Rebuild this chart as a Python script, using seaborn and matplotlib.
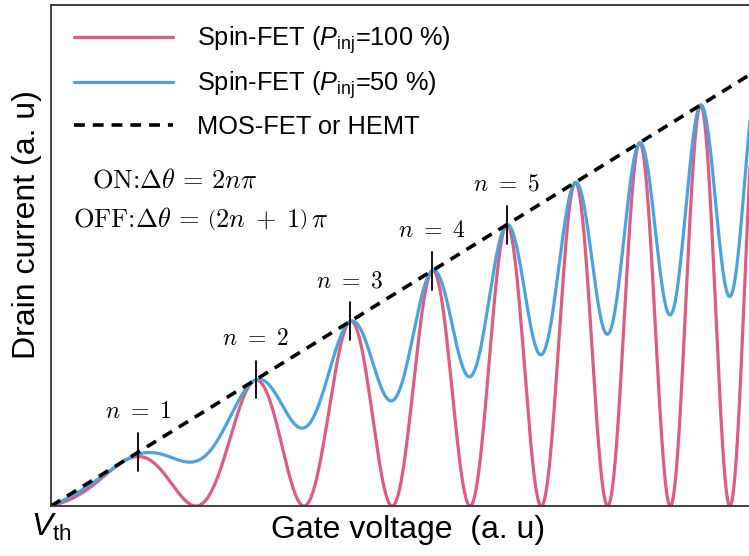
import numpy as np
import pandas as pd
import matplotlib
matplotlib.use("Agg")
import matplotlib.pyplot as plt
import seaborn as sns
from matplotlib.lines import Line2D

# ---- data / model parameters ----
v_max = 10.23                       # gate voltage range (a.u.), V_th at 0
phase_offset = 1.467                # phase / pi at V_th
phase_coef = 0.512                  # phase / pi growth ~ V^1.5
phase_power = 1.5
p_inj = [1.0, 0.5]                  # spin injection polarisation
series_names = ["Spin-FET ($P_{\\rm inj}$=100 %)", "Spin-FET ($P_{\\rm inj}$=50 %)"]
mos_name = "MOS-FET or HEMT"
peak_v = [1.246, 2.937, 4.284, 5.458, 6.533]   # marked ON states n=1..5
peak_labels = [r"$n\ =\ 1$", r"$n\ =\ 2$", r"$n\ =\ 3$", r"$n\ =\ 4$", r"$n\ =\ 5$"]
x_tick_label = r"$V_{\rm th}$"

V = np.linspace(0, v_max, 3000)
phase = np.pi * (phase_offset + phase_coef * V ** phase_power)
rows = []
for p, name in zip(p_inj, series_names):
    I = V * (1 - p * np.sin(phase / 2) ** 2)
    rows.append(pd.DataFrame({"V": V, "I": I, "series": name}))
df = pd.concat(rows, ignore_index=True)
mos = pd.DataFrame({"V": [0, v_max], "I": [0, v_max]})

sns.set_style("white")
plt.rcParams["font.family"] = ["Liberation Sans", "DejaVu Sans"]
plt.rcParams["mathtext.fontset"] = "custom"
plt.rcParams["mathtext.rm"] = "Liberation Sans"
plt.rcParams["mathtext.it"] = "Liberation Sans:italic"
plt.rcParams["mathtext.bf"] = "Liberation Sans:bold"
plt.rcParams["text.color"] = "black"
plt.rcParams["axes.labelcolor"] = "black"
plt.rcParams["xtick.color"] = "black"

fig = plt.figure(figsize=(7.49, 5.56), dpi=100)
ax = fig.add_axes([51 / 749, 50 / 556, 714 / 749, 501 / 556])

colors = ["#df5b7f", "#4aa3e0"]
sns.lineplot(data=df, x="V", y="I", hue="series", palette=colors,
             hue_order=series_names, ax=ax, linewidth=2.3, legend=False)
sns.lineplot(data=mos, x="V", y="I", ax=ax, color="black", linewidth=2.6,
             linestyle=(0, (3, 2.2)))

ax.set_xlim(0, v_max)
ax.set_ylim(0, 11.63)
ax.set_xticks([0])
ax.set_xticklabels([x_tick_label], fontsize=23)
ax.tick_params(axis="x", length=0, pad=4)
ax.set_yticks([])
for s in ["left", "top", "bottom"]:
    ax.spines[s].set_color("#333333")
    ax.spines[s].set_linewidth(1.3)
ax.spines["right"].set_visible(False)

# markers and labels at ON states
for v, lab in zip(peak_v, peak_labels):
    ax.plot([v, v], [v - 0.44, v + 0.44], color="black", lw=1.3, zorder=5)
    t = ax.annotate(lab, xy=(v, v), xytext=(0, 29), textcoords="offset points",
                    ha="center", va="center", fontsize=17)
    t.set_math_fontfamily("cm")

t1 = fig.text(92 / 749, 1 - 188 / 556, r"ON:$\Delta\theta\,=\,2n\pi$",
              ha="left", va="baseline", fontsize=19, family="cmr10")
t1.set_math_fontfamily("cm")
t2 = fig.text(73 / 749, 1 - 227 / 556,
              r"OFF:$\Delta\theta\,=\,\left(2n\;+\;1\right)\,\pi$",
              ha="left", va="baseline", fontsize=19, family="cmr10")
t2.set_math_fontfamily("cm")

ax.set_xlabel("Gate voltage  (a. u)", fontsize=23)
ax.xaxis.set_label_coords(0.5, -0.018)
ax.set_ylabel("Drain current (a. u)", fontsize=23)
ax.yaxis.set_label_coords(-0.0126, 0.561)

handles = [Line2D([], [], color=colors[0], lw=2.3),
           Line2D([], [], color=colors[1], lw=2.3),
           Line2D([], [], color="black", lw=2.6, linestyle=(0, (3, 2.2)))]
leg = ax.legend(handles, series_names + [mos_name], loc="upper left",
                bbox_to_anchor=(74 / 749, 1 - 24 / 556), bbox_transform=fig.transFigure,
                frameon=False, fontsize=18.3, handlelength=3.9, handletextpad=0.95,
                labelspacing=0.55, borderpad=0, borderaxespad=0)

fig.savefig("out.png", dpi=100)
